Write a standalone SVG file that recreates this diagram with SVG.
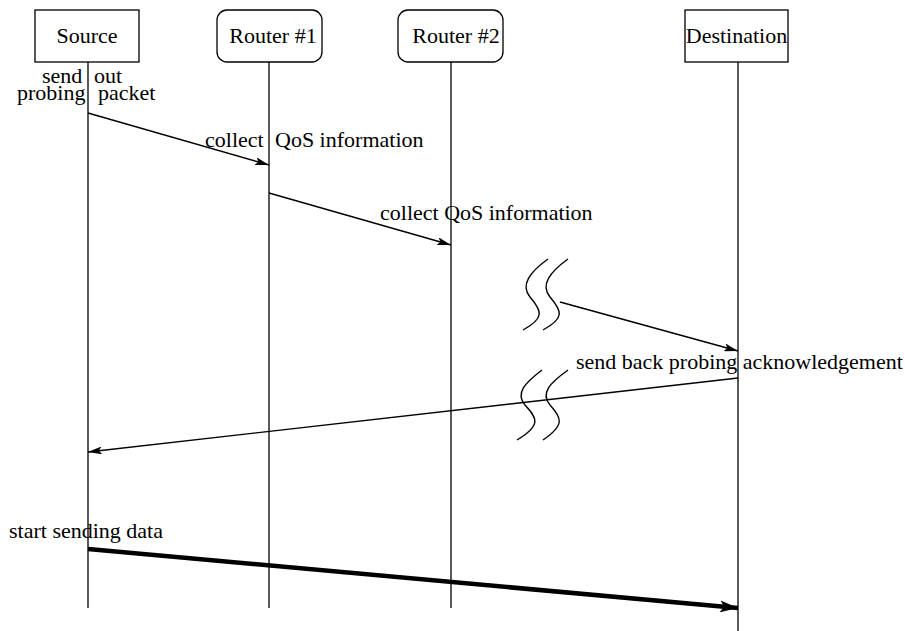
<svg xmlns="http://www.w3.org/2000/svg" width="905" height="631" viewBox="0 0 905 631">
<style>
.box{fill:#fff;stroke:#000;stroke-width:1.3}
.life{stroke:#000;stroke-width:1.3;fill:none}
.msg{stroke:#000;stroke-width:1.4;fill:none}
.brk{stroke:#000;stroke-width:1.4;fill:none}
text{font-family:"Liberation Serif","Times New Roman",serif;font-size:22px;fill:#000}
.c{text-anchor:middle}
</style>
<defs>
<marker id="ah" viewBox="0 0 14 8" refX="14" refY="4" markerWidth="14" markerHeight="8" markerUnits="userSpaceOnUse" orient="auto">
<path d="M0,0 L14,4 L0,8 L3,4 Z" fill="#000"/>
</marker>
<marker id="ahb" viewBox="0 0 18 12" refX="18" refY="6" markerWidth="18" markerHeight="12" markerUnits="userSpaceOnUse" orient="auto">
<path d="M0,0 L18,6 L0,12 L4,6 Z" fill="#000"/>
</marker>
</defs>
<g id="source">
<rect class="box" x="35" y="10" width="104" height="52"/>
<text class="c" x="87" y="43">Source</text>
<line class="life" x1="88" y1="62" x2="88" y2="608"/>
</g>
<g id="router1">
<rect class="box" x="217" y="10" width="105" height="52" rx="10" ry="10"/>
<text class="c" x="273" y="43">Router #1</text>
<line class="life" x1="269" y1="62" x2="269" y2="608"/>
</g>
<g id="router2">
<rect class="box" x="398" y="10" width="105" height="52" rx="10" ry="10"/>
<text class="c" x="456" y="43">Router #2</text>
<line class="life" x1="451" y1="62" x2="451" y2="608"/>
</g>
<g id="destination">
<rect class="box" x="685" y="10" width="103" height="52"/>
<text class="c" x="736.5" y="43">Destination</text>
<line class="life" x1="738" y1="62" x2="738" y2="631"/>
</g>
<g id="connectors">
<line class="msg" x1="88" y1="113" x2="269" y2="165" marker-end="url(#ah)"/>
<line class="msg" x1="269" y1="193" x2="451" y2="245" marker-end="url(#ah)"/>
<line class="msg" x1="560" y1="302" x2="738" y2="351" marker-end="url(#ah)"/>
<line class="msg" x1="738" y1="378" x2="88" y2="452" marker-end="url(#ah)"/>
<line x1="88" y1="549" x2="738" y2="608" stroke="#000" stroke-width="4.5" marker-end="url(#ahb)"/>
</g>
<g id="breaks">
<path class="brk" d="M548,259 C530,272 520,285 530,297 C542,311 545,318 523,330"/>
<path class="brk" d="M568,259 C550,272 540,285 550,297 C562,311 565,318 543,330"/>
<path class="brk" d="M542,370 C525,383 515,393 525,405 C537,418 542,425 517,440"/>
<path class="brk" d="M568,370 C550,383 540,393 550,405 C562,418 565,425 543,440"/>
</g>
<g id="labels">
<text x="42" y="83">send</text>
<text x="94" y="83">out</text>
<text x="17" y="100">probing</text>
<text x="98" y="100">packet</text>
<text x="205" y="147">collect<tspan x="275">QoS information</tspan></text>
<text x="380" y="220">collect QoS information</text>
<text x="576" y="369">send back probing acknowledgement</text>
<text x="9" y="538">start sending data</text>
</g>
</svg>
